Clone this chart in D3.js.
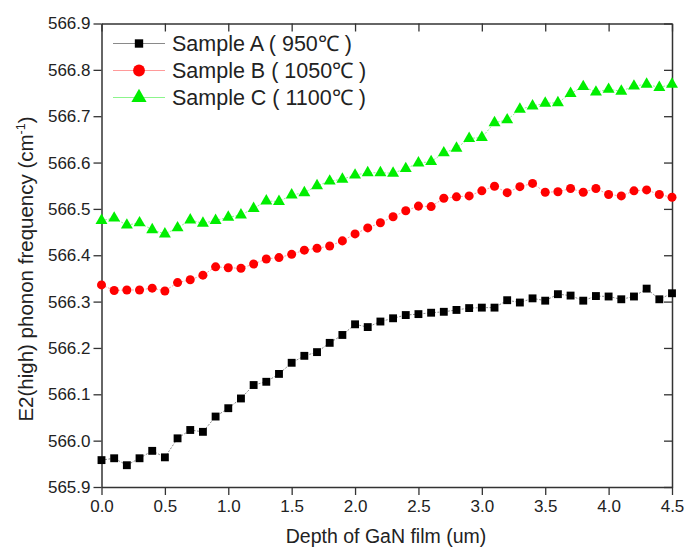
<!DOCTYPE html>
<html>
<head>
<meta charset="utf-8">
<script src="https://cdnjs.cloudflare.com/ajax/libs/d3/7.8.5/d3.min.js"></script>
<style>
body { margin: 0; background: #fff; }
svg text { font-family: "Liberation Sans", Arial, sans-serif; fill: #222; }
</style>
</head>
<body>
<div id="chart"></div>
<script>
// depth in um, 0 .. 4.5 step 0.1
var depth = [0.0,0.1,0.2,0.3,0.4,0.5,0.6,0.7,0.8,0.9,1.0,1.1,1.2,1.3,1.4,1.5,1.6,1.7,1.8,1.9,
	2.0,2.1,2.2,2.3,2.4,2.5,2.6,2.7,2.8,2.9,3.0,3.1,3.2,3.3,3.4,3.5,3.6,3.7,3.8,3.9,
	4.0,4.1,4.2,4.3,4.4,4.5];

var sampleA = [565.958,565.962,565.947,565.962,565.978,565.964,566.005,566.023,566.019,566.052,
	566.070,566.091,566.120,566.127,566.144,566.168,566.183,566.191,566.211,566.228,
	566.251,566.245,566.257,566.264,566.271,566.273,566.276,566.278,566.282,566.286,
	566.287,566.287,566.303,566.298,566.307,566.302,566.316,566.313,566.302,566.312,
	566.311,566.305,566.311,566.328,566.305,566.318];

var sampleB = [566.336,566.324,566.325,566.325,566.329,566.323,566.341,566.347,566.357,566.375,
	566.373,566.372,566.381,566.392,566.395,566.402,566.411,566.415,566.420,566.431,
	566.446,566.459,566.470,566.483,566.496,566.506,566.505,566.523,566.526,566.528,
	566.539,566.549,566.535,566.548,566.555,566.536,566.537,566.544,566.536,566.544,
	566.531,566.528,566.539,566.541,566.531,566.525];

var sampleC = [566.475,566.480,566.465,566.470,566.455,566.446,566.459,566.476,566.469,566.475,
	566.482,566.487,566.501,566.517,566.516,566.530,566.535,566.550,566.560,566.564,
	566.573,566.578,566.578,566.577,566.587,566.599,566.602,566.621,566.631,566.652,
	566.654,566.686,566.692,566.715,566.722,566.728,566.729,566.749,566.764,566.752,
	566.758,566.754,566.765,566.769,566.762,566.769];

var seriesNames = ["Sample A ( 950\u2103 )", "Sample B ( 1050\u2103 )", "Sample C ( 1100\u2103 )"];
var xTicks = [0.0,0.5,1.0,1.5,2.0,2.5,3.0,3.5,4.0,4.5];
var yTicks = [565.9,566.0,566.1,566.2,566.3,566.4,566.5,566.6,566.7,566.8,566.9];

function drawChart() {
	var width = 686, height = 547;
	// plot box (note: "top" is a reserved window property, so use m.*)
	var m = {left: 101.5, right: 672, top: 23.5, bottom: 487};

	var svg = d3.select("#chart").append("svg")
		.attr("width", width)
		.attr("height", height);

	var x = d3.scaleLinear().domain([0, 4.5]).range([m.left, m.right]);
	var y = d3.scaleLinear().domain([565.9, 566.9]).range([m.bottom, m.top]);

	// axes: left/bottom ticks outward, top/right ticks inward
	var xAxis = d3.axisBottom(x).tickValues(xTicks).tickSize(8).tickPadding(5).tickSizeOuter(0)
		.tickFormat(d3.format(".1f"));
	var yAxis = d3.axisLeft(y).tickValues(yTicks).tickSize(8).tickPadding(3).tickSizeOuter(0)
		.tickFormat(d3.format(".1f"));

	var gx = svg.append("g").attr("transform", "translate(0," + m.bottom + ")").call(xAxis);
	var gy = svg.append("g").attr("transform", "translate(" + m.left + ",0)").call(yAxis);

	svg.append("g").attr("transform", "translate(0," + m.top + ")")
		.call(d3.axisBottom(x).tickValues(xTicks).tickSize(8).tickSizeOuter(0).tickFormat(""));
	svg.append("g").attr("transform", "translate(" + m.right + ",0)")
		.call(d3.axisLeft(y).tickValues(yTicks).tickSize(8).tickSizeOuter(0).tickFormat(""));

	svg.selectAll(".domain").attr("stroke", "#333").attr("stroke-width", 1.5);
	svg.selectAll(".tick line").attr("stroke", "#333").attr("stroke-width", 1.3);

	gx.selectAll(".tick text").attr("font-size", 17).attr("fill", "#222");
	gy.selectAll(".tick text").attr("font-size", 17).attr("fill", "#222");

	svg.append("text")
		.attr("x", 386)
		.attr("y", 543)
		.attr("text-anchor", "middle")
		.attr("font-size", 19.5)
		.text("Depth of GaN film (um)");

	var ylab = svg.append("text")
		.attr("transform", "translate(33,269) rotate(-90)")
		.attr("text-anchor", "middle")
		.attr("font-size", 20.5);
	ylab.append("tspan").text("E2(high) phonon frequency (cm");
	ylab.append("tspan").attr("font-size", 12.5).attr("dy", -8).text("-1");
	ylab.append("tspan").attr("dy", 8).text(")");

	var lineColors = ["#8a8a8a", "#ff9a9a", "#8cf58c"];
	var markColors = ["#000000", "#ff0000", "#00ee00"];
	var allSeries = [sampleA, sampleB, sampleC];
	var symbolTypes = [d3.symbolSquare, d3.symbolCircle, d3.symbolTriangle];

	var line = d3.line()
		.x(function(d, i) { return x(depth[i]); })
		.y(function(d) { return y(d); });

	allSeries.forEach(function(vals, s) {
		svg.append("path")
			.datum(vals)
			.attr("fill", "none")
			.attr("stroke", lineColors[s])
			.attr("stroke-width", 1)
			.attr("stroke-dasharray", "2,1.5")
			.attr("d", line);

		svg.append("g").selectAll("path")
			.data(vals)
			.enter()
			.append("path")
			.attr("transform", function(d, i) { return "translate(" + x(depth[i]) + "," + y(d) + ")"; })
			.attr("d", d3.symbol().type(symbolTypes[s]).size([62, 64, 62][s]))
			.attr("fill", markColors[s]);
	});

	// legend
	var legend = svg.append("g");
	seriesNames.forEach(function(name, s) {
		var ly = 43.5 + s * 27;
		legend.append("line")
			.attr("x1", 113).attr("x2", 165)
			.attr("y1", ly).attr("y2", ly)
			.attr("stroke", lineColors[s]).attr("stroke-width", 1);
		legend.append("path")
			.attr("transform", "translate(139," + ly + ")")
			.attr("d", d3.symbol().type(symbolTypes[s]).size([70, 110, 100][s]))
			.attr("fill", markColors[s]);
		legend.append("text")
			.attr("x", 172).attr("y", ly + 7.5)
			.attr("font-size", 21.5)
			.text(name);
	});
}

drawChart();
</script>
</body>
</html>
